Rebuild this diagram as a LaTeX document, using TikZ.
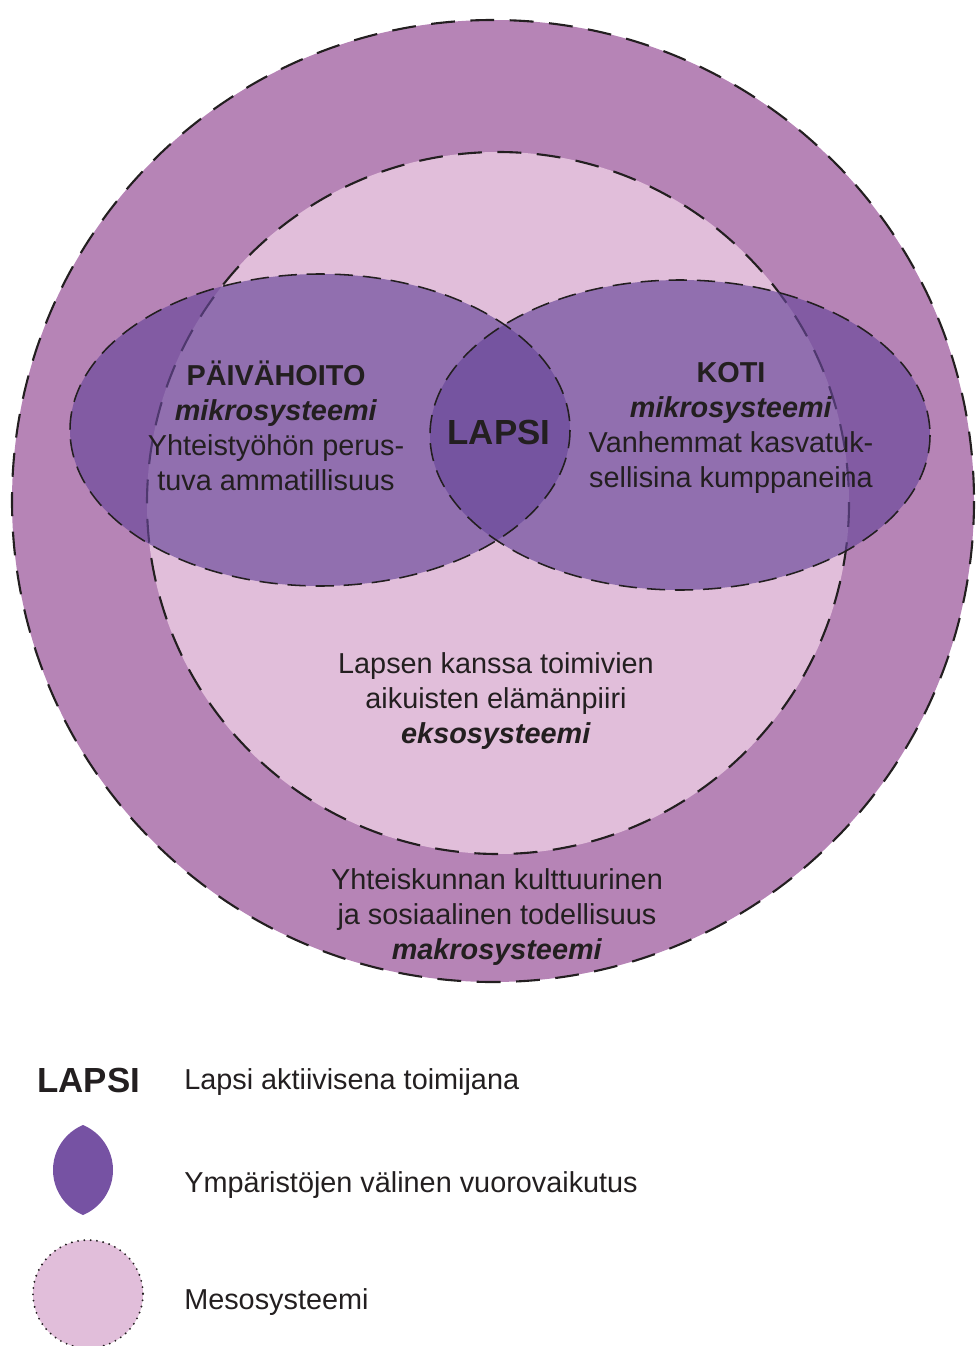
\documentclass[tikz,border=0pt]{standalone}
\usepackage{fontspec}
\setmainfont{Liberation Sans}
\definecolor{makro}{HTML}{B684B6}
\definecolor{ekso}{HTML}{E1BEDA}
\definecolor{mikro}{HTML}{674699}
\definecolor{linssi}{HTML}{7652A3}
\definecolor{muste}{HTML}{231F20}
\begin{document}
\begin{tikzpicture}[x=0.025cm,y=-0.025cm,line join=round,
	reuna/.style={draw=muste,line width=1.5pt,dash pattern=on 17pt off 11pt},
	ohutreuna/.style={draw=muste,line width=1.1pt,dash pattern=on 13pt off 7pt},
	teksti/.style={text=muste,font=\fontsize{20.5}{24.8}\selectfont,align=center,inner sep=0pt},
	iso/.style={text=muste,font=\fontsize{24.8}{28}\selectfont\bfseries,inner sep=0pt}]
	\useasboundingbox (0,0) rectangle (975,1346);
	% makro- ja eksosysteemi
	\fill[makro] (493,501) ellipse [x radius=481,y radius=481];
	\draw[reuna] (493,501) ellipse [x radius=481,y radius=481];
	\fill[ekso] (498,503) ellipse [x radius=351,y radius=351];
	\draw[reuna] (498,503) ellipse [x radius=351,y radius=351];
	% mikrosysteemit
	\fill[mikro,fill opacity=0.65] (320,430) ellipse [x radius=250,y radius=156];
	\fill[mikro,fill opacity=0.65] (680,435) ellipse [x radius=250,y radius=155];
	\draw[ohutreuna] (320,430) ellipse [x radius=250,y radius=156];
	\draw[ohutreuna] (680,435) ellipse [x radius=250,y radius=155];
	% tekstit
	\node[iso] (lapsi) at (499,432) {LAPSI};
	\node[teksti] (paivahoito) at (276,426) {\textbf{PÄIVÄHOITO}\\\textbf{\textit{mikrosysteemi}}\\Yhteistyöhön perus-\\tuva ammatillisuus};
	\node[teksti] (koti) at (731,428) {\textbf{KOTI}\\\textbf{\textit{mikrosysteemi}}\\Vanhemmat kasvatuk-\\sellisina kumppaneina};
	\node[teksti] (eksosysteemi) at (496,701) {Lapsen kanssa toimivien\\aikuisten elämänpiiri\\\textbf{\textit{eksosysteemi}}};
	\node[teksti] (makrosysteemi) at (497,917) {Yhteiskunnan kulttuurinen\\ja sosiaalinen todellisuus\\\textbf{\textit{makrosysteemi}}};
	% selitteet
	\node[iso,anchor=west] (selitelapsi) at (37,1080) {LAPSI};
	\begin{scope}
		\clip (64.25,1170) ellipse [x radius=48.75,y radius=48.75];
		\fill[linssi] (101.75,1170) ellipse [x radius=48.75,y radius=48.75];
	\end{scope}
	\draw[fill=ekso,draw=muste,line width=1.5pt,line cap=round,dash pattern=on 0pt off 4.5pt] (88,1294) ellipse [x radius=55,y radius=54];
	\node[teksti,anchor=west] (toimija) at (184,1082) {Lapsi aktiivisena toimijana};
	\node[teksti,anchor=west] (vuorovaikutus) at (184,1185) {Ympäristöjen välinen vuorovaikutus};
	\node[teksti,anchor=west] (mesosysteemi) at (184,1302) {Mesosysteemi};
\end{tikzpicture}
\end{document}
